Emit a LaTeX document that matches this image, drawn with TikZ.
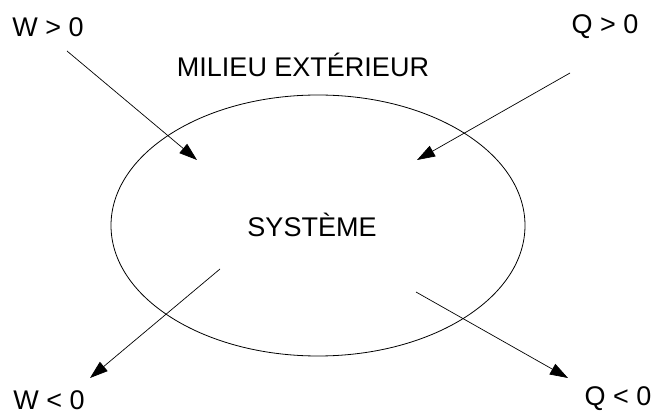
\documentclass[tikz,border=0pt]{standalone}
\usepackage{fontspec}
\setmainfont{Liberation Sans}
\usetikzlibrary{arrows.meta,shapes.geometric}
\begin{document}
\begin{tikzpicture}[x=1pt,y=-1pt,
  lbl/.style={inner sep=0pt,font=\fontsize{27}{32}\selectfont},
  flow/.style={line width=0.7pt,-{Triangle[length=18pt,width=12pt]}},
  sysshape/.style={draw,ellipse,line width=0.8pt,minimum width=414pt,minimum height=261pt,inner sep=0pt}]
\useasboundingbox (0,0) rectangle (654,414);
\node[sysshape] (sys) at (318,225.5) {};
\node[lbl] (milieu) at (303,65) {MILIEU EXTÉRIEUR};
\node[lbl] (systeme) at (312,225) {SYSTÈME};
\node[lbl] (wpos) at (48,27) {W > 0};
\node[lbl] (qpos) at (605,27) {Q > 0};
\node[lbl] (wneg) at (49,400) {W < 0};
\node[lbl] (qneg) at (618,399) {Q < 0};
\coordinate (wpA) at (67,51);  \coordinate (wpB) at (197,160);
\coordinate (qpA) at (570,73); \coordinate (qpB) at (417,160);
\coordinate (wnA) at (220,269); \coordinate (wnB) at (90,378);
\coordinate (qnA) at (416,292); \coordinate (qnB) at (568,378);
\draw[flow] (wpA) -- (wpB);
\draw[flow] (qpA) -- (qpB);
\draw[flow] (wnA) -- (wnB);
\draw[flow] (qnA) -- (qnB);
\end{tikzpicture}
\end{document}
